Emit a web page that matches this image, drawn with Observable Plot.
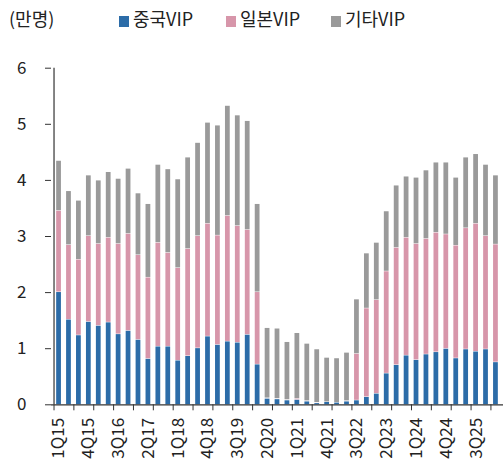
<!DOCTYPE html>
<html>
<head>
<meta charset="utf-8">
<script src="https://cdn.jsdelivr.net/npm/d3@7"></script>
<script src="https://cdn.jsdelivr.net/npm/@observablehq/plot@0.6"></script>
<style>
  html, body { margin: 0; padding: 0; background: #fff; }
  body { width: 503px; height: 464px; overflow: hidden; font-family: "Noto Sans CJK KR", "Noto Sans", sans-serif; color: #222; }
  #legend { position: relative; height: 40px; font-size: 18px; }
  #legend span { position: absolute; top: 5px; line-height: 26px; white-space: nowrap; }
  #legend i { display: inline-block; width: 10px; height: 11px; margin-right: 4px; vertical-align: -1px; }
  svg { display: block; }
</style>
</head>
<body>
<div id="legend"></div>
<div id="chart"></div>
<script>
const quarters = [
  "1Q15","2Q15","3Q15","4Q15","1Q16","2Q16","3Q16","4Q16","1Q17","2Q17","3Q17","4Q17",
  "1Q18","2Q18","3Q18","4Q18","1Q19","2Q19","3Q19","4Q19","1Q20","2Q20","3Q20","4Q20",
  "1Q21","2Q21","3Q21","4Q21","1Q22","2Q22","3Q22","4Q22","1Q23","2Q23","3Q23","4Q23",
  "1Q24","2Q24","3Q24","4Q24","1Q25","2Q25","3Q25","4Q25","1Q26"
];
const labelQuarters = ["1Q15","4Q15","3Q16","2Q17","1Q18","4Q18","3Q19","2Q20","1Q21","4Q21","3Q22","2Q23","1Q24","4Q24","3Q25"];
const seriesNames = ["중국VIP", "일본VIP", "기타VIP"];
const seriesColors = ["#2c6ca8", "#d796aa", "#9a9a9a"];
const yTicks = [0, 1, 2, 3, 4, 5, 6];

const china = [2.01,1.52,1.24,1.48,1.41,1.47,1.26,1.32,1.16,0.82,1.04,1.04,
  0.79,0.87,1.01,1.22,1.07,1.13,1.11,1.25,0.72,0.11,0.10,0.08,
  0.09,0.06,0.03,0.05,0.04,0.06,0.08,0.14,0.20,0.56,0.71,0.88,
  0.80,0.90,0.94,1.00,0.83,0.99,0.95,0.99,0.76];
const japan = [1.45,1.33,1.35,1.53,1.46,1.51,1.61,1.73,1.51,1.45,1.85,1.67,
  1.65,1.91,2.00,2.01,1.95,2.24,2.08,1.87,1.29,0.01,0.01,0.01,
  0.02,0.01,0.01,0.00,0.00,0.01,0.83,1.58,1.67,1.82,2.09,2.10,
  2.07,2.06,2.13,2.04,2.01,2.16,2.28,2.02,2.10];
const other = [0.89,0.96,1.05,1.08,1.13,1.17,1.16,1.16,1.10,1.31,1.39,1.49,
  1.58,1.63,1.66,1.80,1.96,1.96,1.97,1.94,1.57,1.25,1.25,1.03,
  1.17,1.02,0.95,0.79,0.79,0.86,0.97,0.98,1.02,1.07,1.11,1.09,
  1.18,1.22,1.25,1.28,1.21,1.26,1.24,1.27,1.23];

const tickQuarters = quarters.filter((q, i) => i % 2 === 0);

const rows = [];
quarters.forEach((q, i) => {
  rows.push({q, s: seriesNames[0], v: china[i]});
  rows.push({q, s: seriesNames[1], v: japan[i]});
  rows.push({q, s: seriesNames[2], v: other[i]});
});

// legend
const legend = document.getElementById("legend");
const unit = document.createElement("span");
unit.textContent = "(만명)";
unit.style.left = "9px";
legend.appendChild(unit);
const lefts = [119, 226, 331];
seriesNames.forEach((name, k) => {
  const s = document.createElement("span");
  s.style.left = lefts[k] + "px";
  const sw = document.createElement("i");
  sw.style.background = seriesColors[k];
  s.appendChild(sw);
  s.appendChild(document.createTextNode(name));
  legend.appendChild(s);
});

const W = 503, ML = 51, MR = 0;
const step = (W - ML - MR) / quarters.length;

const chart = Plot.plot({
  width: W,
  height: 424,
  marginLeft: ML,
  marginRight: MR,
  marginTop: 27.7,
  marginBottom: 59.7,
  style: {fontFamily: "'Noto Sans CJK KR', 'Noto Sans', sans-serif", fontSize: "17px", color: "#222", background: "white"},
  x: {domain: quarters, padding: 0.52, align: 0.5, axis: null},
  y: {domain: [0, 6], axis: null},
  color: {domain: seriesNames, range: seriesColors},
  marks: [
    Plot.barY(rows, {x: "q", y: "v", fill: "s", insetTop: 0.5}),
    Plot.ruleY([0], {stroke: "#333", strokeWidth: 1.2}),
    Plot.ruleX([quarters[0]], {dx: -step / 2, y1: 0, y2: 6, stroke: "#333", strokeWidth: 1.2}),
    Plot.axisY(yTicks, {anchor: "left", label: null, tickFormat: d3.format("d"), tickSize: 6, tickPadding: 19, fontSize: 17, stroke: "#333", fill: "#222"}),
    Plot.axisX(tickQuarters, {anchor: "bottom", label: null, tickSize: 6, tickFormat: () => "", dx: -step / 2, stroke: "#333"}),
    Plot.axisX(labelQuarters, {anchor: "bottom", label: null, tickSize: 0, tickPadding: 13, tickRotate: -90, fontSize: 17, fill: "#222"})
  ]
});
document.getElementById("chart").appendChild(chart);
</script>
</body>
</html>
